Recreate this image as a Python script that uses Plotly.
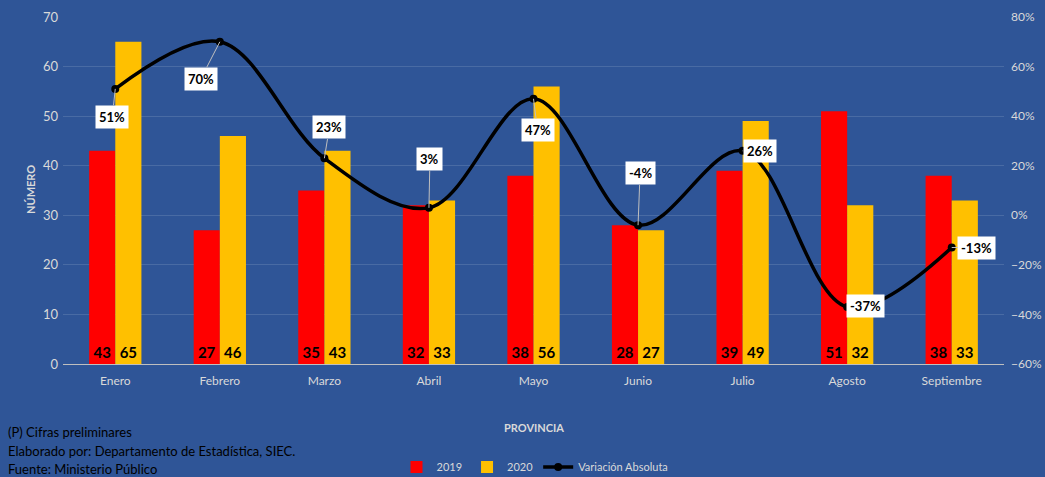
import plotly.graph_objects as go

meses = ["Enero", "Febrero", "Marzo", "Abril", "Mayo", "Junio", "Julio", "Agosto", "Septiembre"]
v2019 = [43, 27, 35, 32, 38, 28, 39, 51, 38]
v2020 = [65, 46, 43, 33, 56, 27, 49, 32, 33]
variacion = [51, 70, 23, 3, 47, -4, 26, -37, -13]
# label offsets (pixels) for the variation data labels
lab_ax = [-3, -19, 5, 1, 4, 2, 17, 18, 25]
lab_ay = [28, 37, -31, -49, 31, -52, 0, -1, 0]

BG = "#2F5597"
TXT = "#D9D9D9"
FONT = "Lato, Liberation Sans, sans-serif"

fig = go.Figure()
fig.add_trace(go.Bar(
    x=meses, y=v2019, name="2019", marker=dict(color="#FF0000", line=dict(width=0)),
    text=["<b>%d</b>" % v for v in v2019], textposition="inside", insidetextanchor="start",
    textfont=dict(color="black", size=15, family=FONT), textangle=0,
))
fig.add_trace(go.Bar(
    x=meses, y=v2020, name="2020", marker=dict(color="#FFC000", line=dict(width=0)),
    text=["<b>%d</b>" % v for v in v2020], textposition="inside", insidetextanchor="start",
    textfont=dict(color="black", size=15, family=FONT), textangle=0,
))
fig.add_trace(go.Scatter(
    x=meses, y=variacion, name="Variación Absoluta", yaxis="y2",
    mode="lines+markers", line=dict(color="black", width=3.5, shape="spline", smoothing=1.0),
    marker=dict(color="black", size=8),
))

annotations = []
for m, v, ax, ay in zip(meses, variacion, lab_ax, lab_ay):
    annotations.append(dict(
        x=m, y=v, xref="x", yref="y2", text="<b>%d%%</b>" % v,
        showarrow=True, arrowhead=0, arrowwidth=1, arrowcolor="#BFBFBF",
        ax=ax, ay=ay, axref="pixel", ayref="pixel",
        bgcolor="white", borderpad=3, font=dict(color="black", size=13, family=FONT),
        standoff=0,
    ))

notes = ["(P) Cifras preliminares", "Elaborado por: Departamento de Estadística, SIEC.", "Fuente: Ministerio Público"]
note_y = [432, 451, 469]
for t, yp in zip(notes, note_y):
    annotations.append(dict(
        x=(6 - 63) / 941, y=(364 - yp) / 347, xref="paper", yref="paper",
        xanchor="left", yanchor="middle", showarrow=False, text=t,
        font=dict(color="black", size=13, family=FONT),
    ))
annotations.append(dict(
    x=0.5, y=(364 - 427) / 347, xref="paper", yref="paper", showarrow=False,
    text="<b>PROVINCIA</b>", font=dict(color=TXT, size=11, family=FONT),
    xanchor="center", yanchor="middle",
))
annotations.append(dict(
    x=(30 - 63) / 941, y=(364 - 190) / 347, xref="paper", yref="paper", showarrow=False,
    text="<b>NÚMERO</b>", textangle=-90, font=dict(color=TXT, size=11, family=FONT),
    xanchor="center", yanchor="middle",
))

fig.update_layout(
    width=1045, height=477,
    paper_bgcolor=BG, plot_bgcolor=BG,
    margin=dict(l=63, r=41, t=17, b=113, autoexpand=False),
    barmode="group", bargap=0.5, bargroupgap=0,
    font=dict(family=FONT, color=TXT, size=12),
    showlegend=True,
    legend=dict(orientation="h", x=(535 - 63) / 941, xanchor="center", yref="container",
                y=(477 - 467) / 477, yanchor="middle",
                font=dict(color=TXT, size=11, family=FONT), bgcolor="rgba(0,0,0,0)",
                itemwidth=30, tracegroupgap=0),
    xaxis=dict(showgrid=False, showline=True, linecolor="#BFBFBF", linewidth=1, automargin=False,
               ticks="", tickfont=dict(color=TXT, size=12, family=FONT), ticklabelstandoff=6),
    yaxis=dict(range=[0, 70], dtick=10, showgrid=True, gridcolor="rgba(255,255,255,0.13)",
               zeroline=False, automargin=False, tickfont=dict(color=TXT, size=13, family=FONT),
               ticklabelstandoff=4),
    yaxis2=dict(range=[-60, 80], dtick=20, overlaying="y", side="right", showgrid=False,
                zeroline=False, automargin=False, ticksuffix="%",
                tickfont=dict(color=TXT, size=12, family=FONT), ticklabelstandoff=6),
    annotations=annotations,
)

fig.write_html("out.html", config={"displayModeBar": False},
               post_script="document.body.style.margin='0';document.body.style.overflow='hidden';")
